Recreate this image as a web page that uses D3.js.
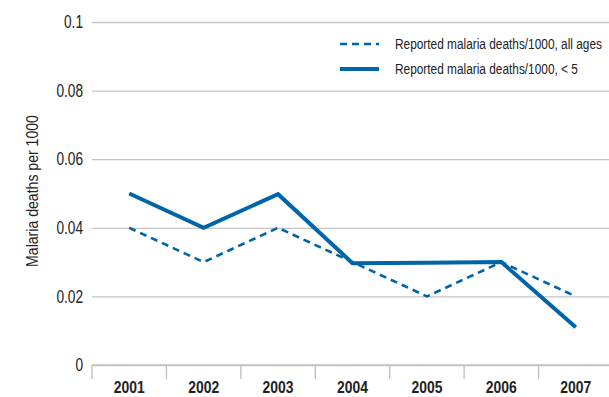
<!DOCTYPE html>
<html>
<head>
<meta charset="utf-8">
<script src="https://cdn.jsdelivr.net/npm/d3@7"></script>
<style>
  html, body { margin: 0; padding: 0; background: #fff; }
  svg { display: block; }
  text { font-family: "Liberation Sans", Arial, sans-serif; fill: #222; }
</style>
</head>
<body>
<svg id="chart" width="609" height="397"></svg>
<script>
// Years shown on the x axis
const years = ["2001", "2002", "2003", "2004", "2005", "2006", "2007"];
// Reported malaria deaths per 1000, all ages
const allAges = [0.04, 0.03, 0.04, 0.03, 0.02, 0.03, 0.02];
// Reported malaria deaths per 1000, children under 5
const underFive = [0.05, 0.04, 0.0498, 0.0297, 0.0298, 0.03, 0.011];
// Y-axis ticks
const yTicks = [0, 0.02, 0.04, 0.06, 0.08, 0.1];
const seriesNames = ["Reported malaria deaths/1000, all ages", "Reported malaria deaths/1000, < 5"];

const blue = "#0064a8";
const svg = d3.select("#chart");
const margin = { left: 92, top: 22, bottom: 365 };

const x = d3.scaleBand().domain(years).range([margin.left, 613]);
const y = d3.scaleLinear().domain([0, 0.1]).range([margin.bottom, margin.top]);

// Squeeze text horizontally around its anchor point for a condensed look
function condense(sel, factor, base) {
  sel.each(function () {
    const t = d3.select(this);
    const tx = +t.attr("x") || 0;
    const ty = +t.attr("y") || 0;
    t.attr("x", 0).attr("y", 0)
      .attr("transform", `${base || ""} translate(${tx},${ty}) scale(${factor},1)`);
  });
}

// Horizontal gridlines with value labels
const yAxis = d3.axisLeft(y).tickValues(yTicks)
  .tickFormat(d => d === 0 ? "0" : String(+d.toFixed(2)))
  .tickSize(-(609 - margin.left)).tickPadding(9);
const gy = svg.append("g").attr("transform", `translate(${margin.left},0)`).call(yAxis);
gy.select(".domain").remove();
gy.selectAll(".tick line").attr("stroke", "#c4c4c4").attr("stroke-width", 1.3);
const yLabels = gy.selectAll(".tick text").attr("font-size", 18).attr("fill", "#222");
condense(yLabels, 0.76);

// Category axis along zero
const xAxis = d3.axisBottom(x).tickSize(0).tickPadding(16);
const gx = svg.append("g").attr("transform", `translate(0,${margin.bottom})`).call(xAxis);
gx.select(".domain").remove();
const xLabels = gx.selectAll(".tick text").attr("font-size", 17).attr("font-weight", "bold").attr("fill", "#222");
condense(xLabels, 0.82);

// Baseline and category separators below it
svg.append("line")
  .attr("x1", margin.left).attr("x2", 609)
  .attr("y1", margin.bottom).attr("y2", margin.bottom)
  .attr("stroke", "#c4c4c4").attr("stroke-width", 1.3);
svg.append("g").selectAll("line")
  .data(years)
  .join("line")
  .attr("x1", d => x(d)).attr("x2", d => x(d))
  .attr("y1", margin.bottom).attr("y2", margin.bottom + 14)
  .attr("stroke", "#bdbdbd").attr("stroke-width", 1.3);

// Axis title
const title = svg.append("text")
  .attr("text-anchor", "middle")
  .attr("font-size", 16.5)
  .text("Malaria deaths per 1000");
condense(title, 152 / title.node().getComputedTextLength(), "translate(38,191) rotate(-90)");

const line = d3.line()
  .x((d, i) => x(years[i]) + x.bandwidth() / 2)
  .y(d => y(d));

svg.append("path")
  .datum(allAges)
  .attr("fill", "none")
  .attr("stroke", blue)
  .attr("stroke-width", 2.6)
  .attr("stroke-dasharray", "7,5")
  .attr("d", line);

svg.append("path")
  .datum(underFive)
  .attr("fill", "none")
  .attr("stroke", blue)
  .attr("stroke-width", 4)
  .attr("stroke-linejoin", "miter")
  .attr("d", line);

// Legend
const legend = svg.append("g");
const legendRows = [
  { name: seriesNames[0], dash: "7,5", width: 2.6, yPos: 44 },
  { name: seriesNames[1], dash: null, width: 4, yPos: 69 }
];
const legendTexts = [];
legendRows.forEach(r => {
  legend.append("line")
    .attr("x1", 340).attr("x2", 379)
    .attr("y1", r.yPos).attr("y2", r.yPos)
    .attr("stroke", blue).attr("stroke-width", r.width)
    .attr("stroke-dasharray", r.dash);
  legendTexts.push(legend.append("text")
    .attr("x", 395).attr("y", r.yPos)
    .attr("dy", "0.35em")
    .attr("font-size", 15)
    .text(r.name));
});
// Both legend rows share the squeeze that fits the first one into its space
const legendFactor = 207 / legendTexts[0].node().getComputedTextLength();
legendTexts.forEach(t => condense(t, legendFactor));
</script>
</body>
</html>
